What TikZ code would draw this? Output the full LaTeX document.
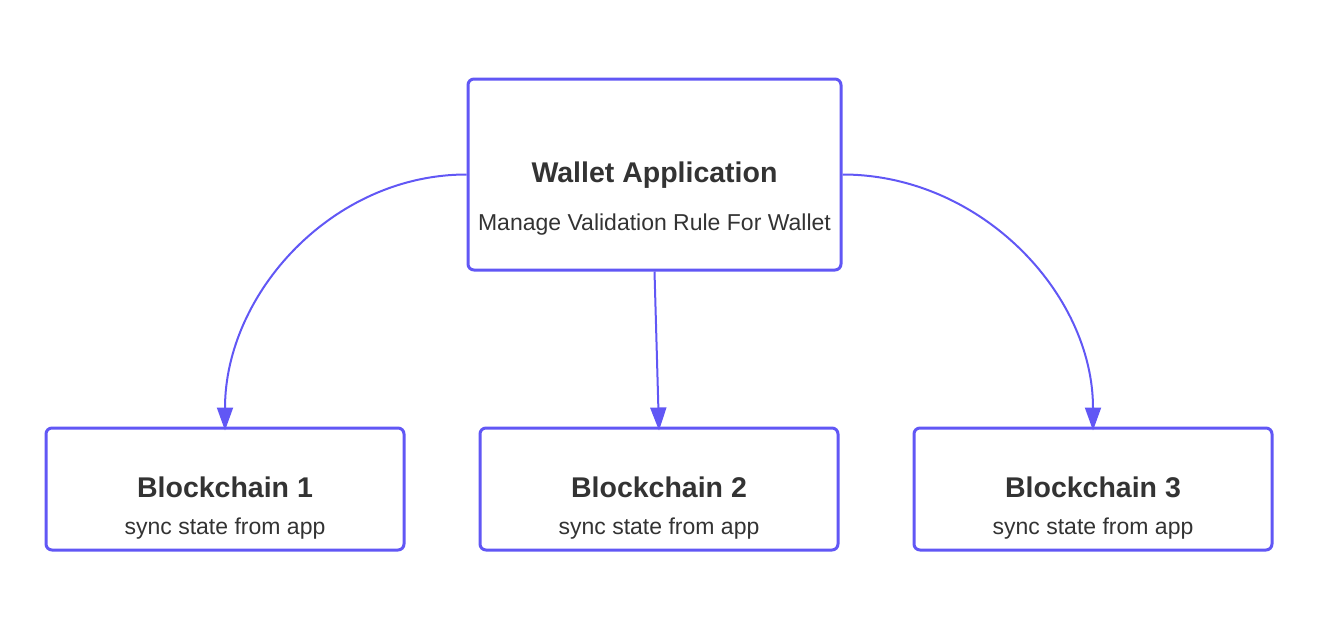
\documentclass[tikz,border=0pt]{standalone}
\usepackage{fontspec}
\setmainfont{Liberation Sans}
\usetikzlibrary{arrows.meta}
\definecolor{edge}{HTML}{6157F5}
\definecolor{ink}{HTML}{333333}
\tikzset{
  box/.style={draw=edge, line width=3pt, rounded corners=6pt, fill=white, inner sep=0pt},
  conn/.style={draw=edge, line width=2pt, -{Triangle[length=23pt,width=16pt]}},
  ttl/.style={text=ink, font=\fontsize{28.5}{32}\selectfont\bfseries, inner sep=0pt},
  sub/.style={text=ink, font=\fontsize{23}{26}\selectfont, inner sep=0pt}
}
\begin{document}
\begin{tikzpicture}[x=1pt,y=-1pt]
\useasboundingbox (0,0) rectangle (1330,640);
\node[box, minimum width=373pt, minimum height=191pt] (top) at (654.5,174.5) {};
\node[box, minimum width=358pt, minimum height=122pt] (b1) at (225,489) {};
\node[box, minimum width=358pt, minimum height=122pt] (b2) at (659,489) {};
\node[box, minimum width=358pt, minimum height=122pt] (b3) at (1093,489) {};
\node[ttl] (t0) at (654.5,175) {Wallet Application};
\node[sub] (s0) at (654.5,225) {Manage Validation Rule For Wallet};
\node[ttl] (t1) at (225,487) {Blockchain 1};
\node[sub] (s1) at (225,529) {sync state from app};
\node[ttl] (t2) at (659,487) {Blockchain 2};
\node[sub] (s2) at (659,529) {sync state from app};
\node[ttl] (t3) at (1093,487) {Blockchain 3};
\node[sub] (s3) at (1093,529) {sync state from app};
\draw[conn] (top.west) .. controls ++(-134,0) and ++(0,-137) .. ([yshift=-4pt]b1.north);
\draw[conn] (top.south) -- ([yshift=-4pt]b2.north);
\draw[conn] (top.east) .. controls ++(138,0) and ++(0,-137) .. ([yshift=-4pt]b3.north);
\end{tikzpicture}
\end{document}
